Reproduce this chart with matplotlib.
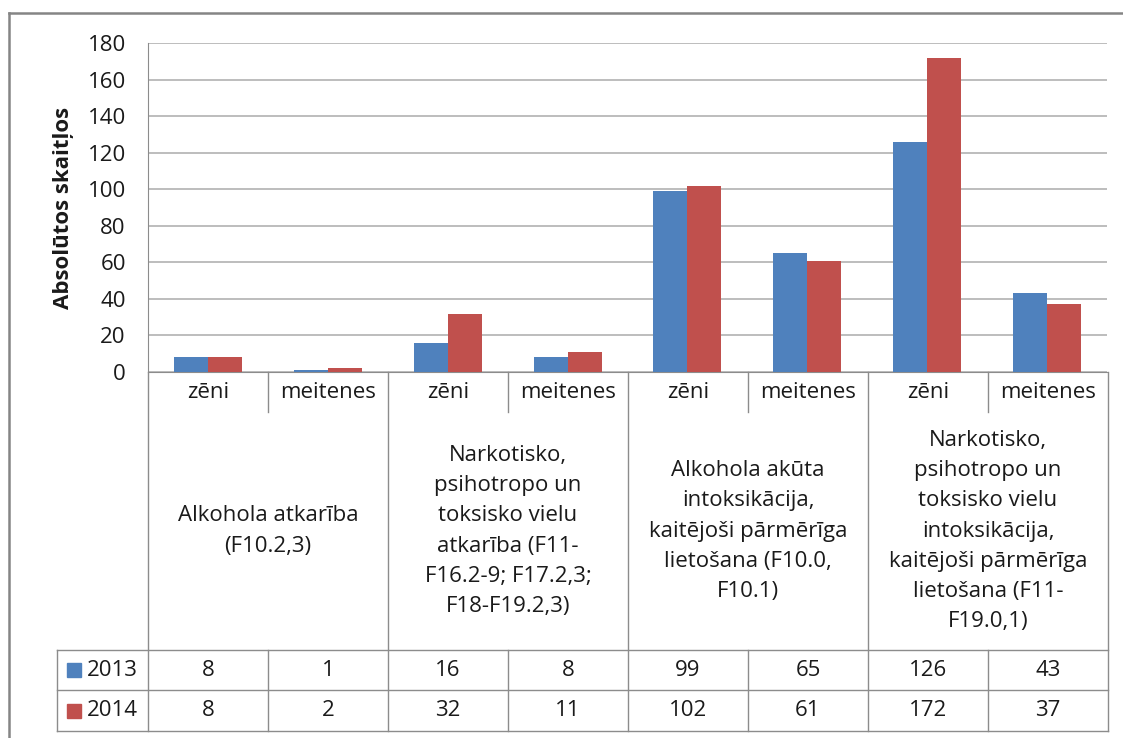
import matplotlib
matplotlib.use('Agg')
import matplotlib.pyplot as plt
from matplotlib.lines import Line2D
from matplotlib.patches import Rectangle

plt.rcParams['font.family'] = ['Open Sans', 'DejaVu Sans']

# dati
sub_labels = ['zēni', 'meitenes', 'zēni', 'meitenes', 'zēni', 'meitenes', 'zēni', 'meitenes']
group_labels = [
    'Alkohola atkarība\n(F10.2,3)',
    'Narkotisko,\npsihotropo un\ntoksisko vielu\natkarība (F11-\nF16.2-9; F17.2,3;\nF18-F19.2,3)',
    'Alkohola akūta\nintoksikācija,\nkaitējoši pārmērīga\nlietošana (F10.0,\nF10.1)',
    'Narkotisko,\npsihotropo un\ntoksisko vielu\nintoksikācija,\nkaitējoši pārmērīga\nlietošana (F11-\nF19.0,1)',
]
years = ['2013', '2014']
values_2013 = [8, 1, 16, 8, 99, 65, 126, 43]
values_2014 = [8, 2, 32, 11, 102, 61, 172, 37]
colors = ['#4F81BD', '#C0504D']

W, H = 1123, 738
fig = plt.figure(figsize=(W / 100, H / 100), dpi=100)
fig.patch.set_facecolor('white')

txt = '#1a1a1a'
line_c = '#8C8C8C'
fs = 16

# galvenais grafiks
ax = fig.add_axes([148 / W, 1 - 372 / H, 959 / W, 329 / H])
n = len(sub_labels)
bw = 34 / 120
xs = [i + 0.5 for i in range(n)]
ax.bar([x - bw / 2 for x in xs], values_2013, bw, color=colors[0], zorder=3)
ax.bar([x + bw / 2 for x in xs], values_2014, bw, color=colors[1], zorder=3)
ax.set_xlim(0, n)
ax.set_ylim(0, 180)
ax.set_yticks(range(0, 181, 20))
ax.set_xticks([])
ax.grid(axis='y', color='#BDBDBD', lw=1.4, zorder=0)
ax.tick_params(axis='y', length=0, pad=16, labelsize=fs, labelcolor=txt)
for s in ['top', 'right']:
    ax.spines[s].set_visible(False)
ax.spines['left'].set_color(line_c)
ax.spines['bottom'].set_color(line_c)
ax.set_ylabel('Absolūtos skaitļos', fontsize=fs, fontweight='bold', color=txt)
ax.yaxis.set_label_coords(-0.077, 0.5)

# kategoriju ass un datu tabula
tab = fig.add_axes([0, 0, 1, 366 / H])
tab.set_xlim(-148 / 120, (W - 148) / 120)
tab.set_ylim(H, 372)
tab.axis('off')

left = (57 - 148) / 120
y_sub, y_tab, y_r1, y_end = 412, 650, 690, 731
for i in range(n + 1):
    if i % 2 == 0:
        tab.plot([i, i], [372, y_end], color=line_c, lw=1, clip_on=False)
    else:
        tab.plot([i, i], [372, y_sub], color=line_c, lw=1, clip_on=False)
        tab.plot([i, i], [y_tab, y_end], color=line_c, lw=1, clip_on=False)
tab.plot([left, left], [y_tab, y_end], color=line_c, lw=1, clip_on=False)
for y in [y_tab, y_r1, y_end]:
    tab.plot([left, n], [y, y], color=line_c, lw=1, clip_on=False)

for i, lab in enumerate(sub_labels):
    tab.text(i + 0.5, 392, lab, ha='center', va='center', fontsize=fs, color=txt)
for g, lab in enumerate(group_labels):
    tab.text(2 * g + 1, 531, lab, ha='center', va='center', fontsize=fs,
             color=txt, linespacing=1.58, multialignment='center')

for row, (yr, vals, c) in enumerate(zip(years, [values_2013, values_2014], colors)):
    yc = (y_tab + y_r1) / 2 if row == 0 else (y_r1 + y_end) / 2
    tab.add_patch(Rectangle(((67 - 148) / 120, yc - 7), 14 / 120, 14, color=c, clip_on=False))
    tab.text((87 - 148) / 120, yc, yr, ha='left', va='center', fontsize=fs, color=txt)
    for i, v in enumerate(vals):
        tab.text(i + 0.5, yc, str(v), ha='center', va='center', fontsize=fs, color=txt)

# ārējais rāmis
fig.add_artist(Line2D([9 / W, 9 / W], [0, 1 - 13 / H], color='#858585', lw=1.8))
fig.add_artist(Line2D([9 / W, 1], [1 - 13 / H, 1 - 13 / H], color='#858585', lw=1.8))

fig.savefig('out.png', dpi=100)
